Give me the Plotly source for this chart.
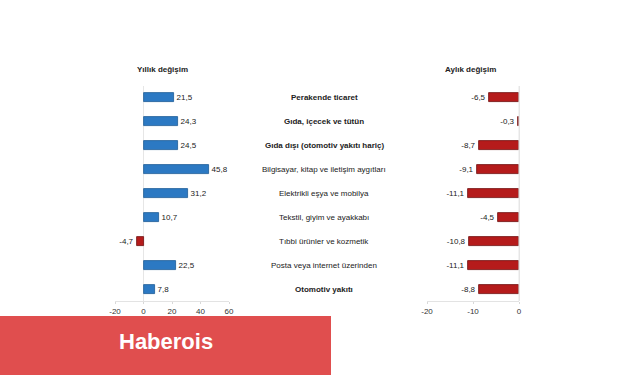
import plotly.graph_objects as go

categories = [
    "Perakende ticaret",
    "Gıda, içecek ve tütün",
    "Gıda dışı (otomotiv yakıtı hariç)",
    "Bilgisayar, kitap ve iletişim aygıtları",
    "Elektrikli eşya ve mobilya",
    "Tekstil, giyim ve ayakkabı",
    "Tıbbi ürünler ve kozmetik",
    "Posta veya internet üzerinden",
    "Otomotiv yakıtı",
]
bold_flags = [True, True, True, False, False, False, False, False, True]
annual = [21.5, 24.3, 24.5, 45.8, 31.2, 10.7, -4.7, 22.5, 7.8]
monthly = [-6.5, -0.3, -8.7, -9.1, -11.1, -4.5, -10.8, -11.1, -8.8]
annual_ticks = [-20, 0, 20, 40, 60]
monthly_ticks = [-20, -10, 0]

BLUE = "#2c79c3"
BLUE_EDGE = "#1d5a96"
RED = "#b51b1b"
RED_EDGE = "#6e0f0f"

def fmt(v):
    return f"{v:.1f}".replace(".", ",")

ypos = list(range(len(categories)))
FONT = "Arial, Liberation Sans, sans-serif"

fig = go.Figure()
fig.add_trace(go.Bar(
    x=annual, y=ypos, orientation="h",
    marker=dict(color=[BLUE if v >= 0 else RED for v in annual],
                line=dict(color=[BLUE_EDGE if v >= 0 else RED_EDGE for v in annual], width=0.8)),
    width=0.38,
    text=[fmt(v) for v in annual], textposition="outside",
    textfont=dict(size=8, color="#222", family=FONT),
    cliponaxis=False, xaxis="x", yaxis="y", hoverinfo="skip",
))
fig.add_trace(go.Bar(
    x=monthly, y=ypos, orientation="h",
    marker=dict(color=RED, line=dict(color=RED_EDGE, width=0.8)),
    width=0.38,
    text=[fmt(v) for v in monthly], textposition="outside",
    textfont=dict(size=8, color="#222", family=FONT),
    cliponaxis=False, xaxis="x2", yaxis="y2", hoverinfo="skip",
))

W, H = 633, 375
ydom = [1 - 301 / H, 1 - 86 / H]
axis_common = dict(
    showgrid=False, showline=True, linecolor="#e3e3e3", linewidth=1,
    ticks="outside", ticklen=2, tickcolor="#d8d8d8",
    tickfont=dict(size=8, color="#333", family=FONT),
    zeroline=True, zerolinecolor="#e6e6e6", zerolinewidth=1,
    fixedrange=True, automargin=False,
)
fig.update_layout(
    width=W, height=H, autosize=False,
    margin=dict(l=0, r=0, t=0, b=0, pad=0),
    paper_bgcolor="white", plot_bgcolor="white",
    showlegend=False,
    bargap=0,
    xaxis=dict(domain=[115 / W, 229 / W], range=[-20, 60], tickvals=annual_ticks,
               ticktext=[str(t) for t in annual_ticks], anchor="y", **axis_common),
    yaxis=dict(domain=ydom, range=[8.5, -0.5], visible=False, anchor="x", automargin=False),
    xaxis2=dict(domain=[427 / W, 519 / W], range=[-20, 0], tickvals=monthly_ticks,
                ticktext=[str(t) for t in monthly_ticks], anchor="y2", **axis_common),
    yaxis2=dict(domain=ydom, range=[8.5, -0.5], visible=False, anchor="x2", automargin=False),
)

# vertical zero line for monthly axis at its right edge
fig.add_shape(type="line", xref="x2", yref="paper", x0=0, x1=0,
              y0=ydom[0], y1=ydom[1], line=dict(color="#e6e6e6", width=1))

# category labels in the middle
for i, (c, b) in enumerate(zip(categories, bold_flags)):
    fig.add_annotation(
        x=324 / W, xref="paper", y=i, yref="y",
        text=f"<b>{c}</b>" if b else c, showarrow=False,
        font=dict(size=8, color="#222", family=FONT), xanchor="center", yanchor="middle",
    )

fig.add_annotation(x=162 / W, y=1 - 70 / H, xref="paper", yref="paper",
                   text="<b>Yıllık değişim</b>", showarrow=False,
                   xanchor="center", yanchor="middle",
                   font=dict(size=8, color="#222", family=FONT))
fig.add_annotation(x=470 / W, y=1 - 70 / H, xref="paper", yref="paper",
                   text="<b>Aylık değişim</b>", showarrow=False,
                   xanchor="center", yanchor="middle",
                   font=dict(size=8, color="#222", family=FONT))

# watermark banner
fig.add_shape(type="rect", xref="paper", yref="paper", x0=0, x1=331 / W,
              y0=0, y1=1 - 316 / H, fillcolor="#e04e4e", line=dict(width=0), layer="above")
fig.add_annotation(x=166 / W, y=1 - 341 / H, xref="paper", yref="paper",
                   text="<b>Haberois</b>", showarrow=False,
                   xanchor="center", yanchor="middle",
                   font=dict(size=22, color="white", family=FONT))

fig.write_html("out.html", config={"displayModeBar": False},
               post_script="document.body.style.margin='0';document.body.style.overflow='hidden';")
